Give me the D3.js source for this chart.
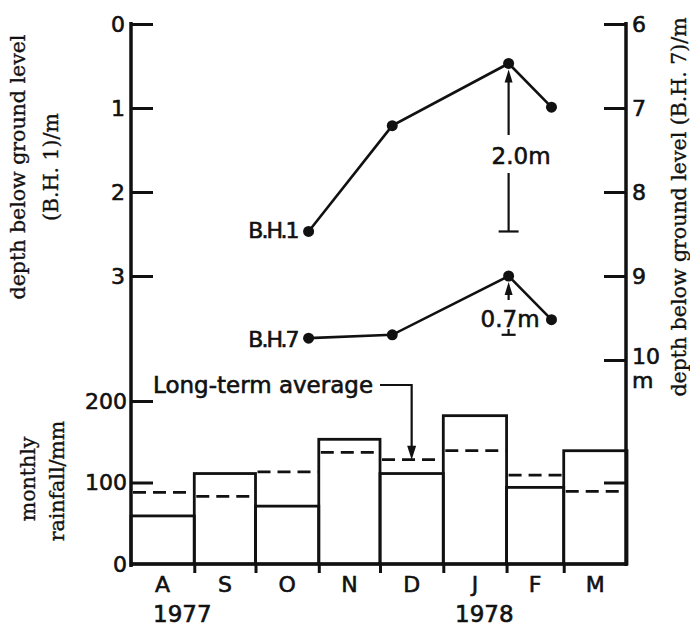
<!DOCTYPE html>
<html>
<head>
<meta charset="utf-8">
<script src="https://cdn.jsdelivr.net/npm/d3@7"></script>
<style>
  html, body { margin: 0; padding: 0; background: #fff; }
  svg { display: block; }
  .num { font-family: "DejaVu Sans", sans-serif; font-size: 22px; fill: #111; stroke: #111; stroke-width: 0.6px; }
  .title { font-family: "DejaVu Serif", serif; font-size: 20.5px; fill: #111; stroke: #111; stroke-width: 0.35px; }
</style>
</head>
<body>
<svg id="chart" width="690" height="626"></svg>
<script>
// Monthly rainfall, Aug 1977 - Mar 1978
const months = ["A", "S", "O", "N", "D", "J", "F", "M"];
const monthStarts = ["1977-08-01", "1977-09-01", "1977-10-01", "1977-11-01",
                     "1977-12-01", "1978-01-01", "1978-02-01", "1978-03-01"];
const periodEnd = "1978-04-01";
const rainfall = [59, 111, 71, 153, 111, 182, 94, 139];          // mm
const longTermAverage = [88, 83, 113, 137, 128, 139, 109, 89];   // mm

// Groundwater depth readings in the two boreholes
const readingDates = ["1977-10-27", "1977-12-07", "1978-02-02", "1978-02-23"];
const bh1Depth = [2.47, 1.21, 0.47, 0.99];   // m below ground
const bh7Depth = [9.74, 9.70, 9.00, 9.52];   // m below ground

// Axis tick values
const bh1Ticks = [0, 1, 2, 3];
const bh7Ticks = [6, 7, 8, 9, 10];
const rainTicks = [0, 100, 200];

const parse = d3.timeParse("%Y-%m-%d");
const svg = d3.select("#chart");
const ink = "#111";

const x = d3.scaleTime()
  .domain([parse(monthStarts[0]), parse(periodEnd)])
  .range([131, 627]);
const yBH1 = d3.scaleLinear().domain([0, 4]).range([24, 360]);
const yBH7 = d3.scaleLinear().domain([6, 10]).range([24, 360]);
const yRain = d3.scaleLinear().domain([0, 200]).range([564, 401]);

const monthData = months.map((m, i) => ({
  label: m,
  start: parse(monthStarts[i]),
  end: parse(i + 1 < monthStarts.length ? monthStarts[i + 1] : periodEnd),
  rain: rainfall[i],
  avg: longTermAverage[i]
}));

// --- long vertical frame lines on both sides
svg.append("line").attr("x1", 131).attr("x2", 131).attr("y1", 22).attr("y2", 567)
  .attr("stroke", ink).attr("stroke-width", 3.5);
svg.append("line").attr("x1", 626).attr("x2", 626).attr("y1", 22).attr("y2", 566)
  .attr("stroke", ink).attr("stroke-width", 3.5);

function styleAxis(g) {
  g.select(".domain").remove();
  g.selectAll(".tick line").attr("stroke", ink).attr("stroke-width", 3);
  g.selectAll(".tick text").attr("class", "num").attr("fill", ink);
}

const intFmt = d3.format("d");

// --- depth axes
svg.append("g").attr("transform", "translate(131,0)")
  .call(d3.axisLeft(yBH1).tickValues(bh1Ticks).tickFormat(intFmt)
    .tickSizeInner(-22).tickSizeOuter(0).tickPadding(6))
  .call(styleAxis);

svg.append("g").attr("transform", "translate(626,0)")
  .call(d3.axisRight(yBH7).tickValues(bh7Ticks).tickFormat(intFmt)
    .tickSizeInner(-22).tickSizeOuter(0).tickPadding(6))
  .call(styleAxis)
  .call(g => g.selectAll(".tick").filter(d => d === 10).select("text").attr("dy", "0.18em"));
svg.append("text").attr("class", "num")
  .attr("x", 632).attr("y", yBH7(10) + 28).text("m");

// --- rainfall axes
svg.append("g").attr("transform", "translate(131,0)")
  .call(d3.axisLeft(yRain).tickValues(rainTicks).tickFormat(intFmt)
    .tickSizeInner(-22).tickSizeOuter(0).tickPadding(4))
  .call(styleAxis)
  .call(g => g.selectAll(".tick").filter(d => d === 0).select("line").remove());

svg.append("g").attr("transform", "translate(626,0)")
  .call(d3.axisRight(yRain).tickValues([100]).tickFormat("").tickSizeInner(-22).tickSizeOuter(0))
  .call(styleAxis);

// --- rainfall bars
svg.append("g").selectAll("rect").data(monthData).join("rect")
  .attr("x", d => x(d.start))
  .attr("y", d => yRain(d.rain))
  .attr("width", d => x(d.end) - x(d.start))
  .attr("height", d => yRain(0) - yRain(d.rain))
  .attr("fill", "none").attr("stroke", ink).attr("stroke-width", 2.8);

// long-term averages as dashed segments
svg.append("g").selectAll("line").data(monthData).join("line")
  .attr("x1", d => x(d.start) + 2)
  .attr("x2", d => x(d.end) - 1)
  .attr("y1", d => yRain(d.avg))
  .attr("y2", d => yRain(d.avg))
  .attr("stroke", ink).attr("stroke-width", 2.8)
  .attr("stroke-dasharray", "13,7");

// baseline and month ticks
svg.append("line").attr("x1", 131).attr("x2", 627).attr("y1", yRain(0)).attr("y2", yRain(0))
  .attr("stroke", ink).attr("stroke-width", 3.5);
svg.append("g").attr("transform", `translate(0,${yRain(0)})`)
  .call(d3.axisBottom(x).tickValues(monthData.slice(1).map(d => d.start))
    .tickFormat("").tickSizeInner(9).tickSizeOuter(0))
  .call(styleAxis);

// month labels
svg.append("g").selectAll("text").data(monthData).join("text")
  .attr("class", "num")
  .attr("x", d => (x(d.start) + x(d.end)) / 2)
  .attr("y", 592)
  .attr("text-anchor", "middle")
  .text(d => d.label);

svg.append("text").attr("class", "num").attr("x", 153).attr("y", 622).style("font-size", "23px").text("1977");
svg.append("text").attr("class", "num").attr("x", 455).attr("y", 622).style("font-size", "23px").text("1978");

// "Long-term average" pointer to December's average
const decMid = new Date((monthData[4].start.getTime() + monthData[4].end.getTime()) / 2);
const decAvgY = yRain(longTermAverage[4]);
svg.append("text").attr("class", "num").style("font-size", "23px")
  .attr("x", 153).attr("y", 393).text("Long-term average");
svg.append("path")
  .attr("d", `M380,385 H${x(decMid)} V${decAvgY - 12}`)
  .attr("fill", "none").attr("stroke", ink).attr("stroke-width", 2.2);
svg.append("path")
  .attr("d", `M${x(decMid) - 4.5},${decAvgY - 14} L${x(decMid) + 4.5},${decAvgY - 14} L${x(decMid)},${decAvgY} Z`)
  .attr("fill", ink);

// --- borehole hydrographs
const bh1 = readingDates.map((d, i) => ({ date: parse(d), depth: bh1Depth[i] }));
const bh7 = readingDates.map((d, i) => ({ date: parse(d), depth: bh7Depth[i] }));

function drawSeries(data, yScale) {
  svg.append("path").datum(data)
    .attr("d", d3.line().x(d => x(d.date)).y(d => yScale(d.depth)))
    .attr("fill", "none").attr("stroke", ink).attr("stroke-width", 2.6);
  svg.append("g").selectAll("circle").data(data).join("circle")
    .attr("cx", d => x(d.date)).attr("cy", d => yScale(d.depth))
    .attr("r", 5.5).attr("fill", ink);
}
drawSeries(bh1, yBH1);
drawSeries(bh7, yBH7);

svg.append("text").attr("class", "num").attr("text-anchor", "end")
  .style("letter-spacing", "-2px")
  .attr("x", x(bh1[0].date) - 11).attr("y", yBH1(bh1[0].depth) + 7).text("B.H.1");
svg.append("text").attr("class", "num").attr("text-anchor", "end")
  .style("letter-spacing", "-2px")
  .attr("x", x(bh7[0].date) - 11).attr("y", yBH7(bh7[0].depth) + 9).text("B.H.7");

// rise annotations: bar at the low level, arrow up to the peak
function riseMarker(xPos, yLow, yHigh, label, textY, textDx, barHalf, stemTop, stemBottom) {
  const g = svg.append("g").attr("stroke", ink).attr("stroke-width", 2.2);
  g.append("line").attr("x1", xPos - barHalf).attr("x2", xPos + barHalf).attr("y1", yLow).attr("y2", yLow);
  g.append("line").attr("x1", xPos).attr("x2", xPos).attr("y1", yLow).attr("y2", stemBottom);
  g.append("line").attr("x1", xPos).attr("x2", xPos).attr("y1", stemTop).attr("y2", yHigh + 14);
  svg.append("path")
    .attr("d", `M${xPos - 4},${yHigh + 19} L${xPos + 4},${yHigh + 19} L${xPos},${yHigh + 6} Z`)
    .attr("fill", ink);
  svg.append("text").attr("class", "num").style("font-size", "23px")
    .attr("x", xPos + textDx).attr("y", textY).text(label);
}
riseMarker(x(bh1[2].date), yBH1(bh1[0].depth), yBH1(bh1[2].depth),
  "2.0m", 164, -17, 10, 135, 173);
riseMarker(x(bh7[2].date), yBH7(bh7[1].depth), yBH7(bh7[2].depth),
  "0.7m", 327, -28, 7, 300, 329);

// --- axis titles
svg.append("text").attr("class", "title").attr("text-anchor", "middle")
  .attr("transform", "translate(25,167) rotate(-90)").text("depth below ground level");
svg.append("text").attr("class", "title").attr("text-anchor", "middle")
  .attr("transform", "translate(58,167) rotate(-90)").text("(B.H. 1)/m");
svg.append("text").attr("class", "title").attr("text-anchor", "middle")
  .attr("transform", "translate(686,207) rotate(-90)").text("depth below ground level (B.H. 7)/m");
svg.append("text").attr("class", "title").attr("text-anchor", "middle")
  .attr("transform", "translate(35,479) rotate(-90)").text("monthly");
svg.append("text").attr("class", "title").attr("text-anchor", "middle")
  .attr("transform", "translate(64,481) rotate(-90)").text("rainfall/mm");
</script>
</body>
</html>
